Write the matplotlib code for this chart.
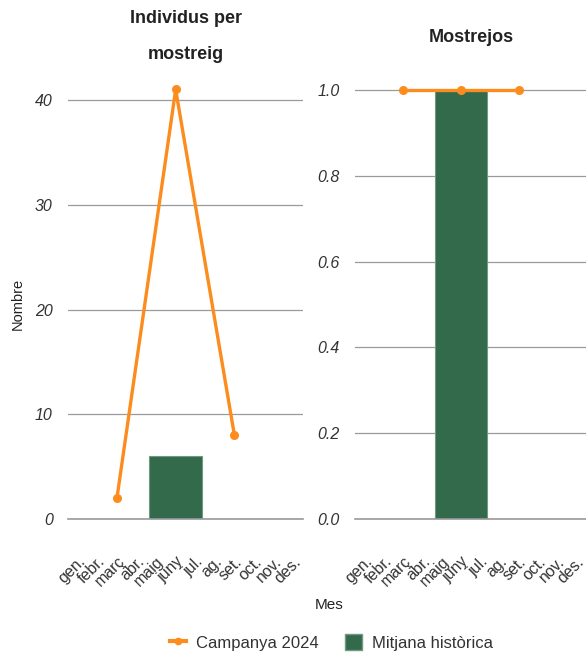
import matplotlib.pyplot as plt
from matplotlib.lines import Line2D
from matplotlib.patches import Patch

plt.rcParams['font.family'] = ['Liberation Sans', 'DejaVu Sans']

mesos = ['gen.', 'febr.', 'març', 'abr.', 'maig', 'juny', 'jul.', 'ag.', 'set.', 'oct.', 'nov.', 'des.']

# Campanya 2024 (només mesos amb mostreig)
mesos_campanya = ['març', 'juny', 'set.']
individus_2024 = [2, 41, 8]
mostrejos_2024 = [1, 1, 1]

# Mitjana històrica
mesos_mitjana = ['juny']
individus_mitjana = [6]
mostrejos_mitjana = [1]

taronja = '#fd8c1e'
verd = '#336a4c'
gris = '#9a9a9a'

fig = plt.figure(figsize=(5.86, 6.53), dpi=100)
ax1 = fig.add_axes([0.116, 0.205, 0.401, 0.674])
ax2 = fig.add_axes([0.606, 0.205, 0.394, 0.690])

idx = {m: i for i, m in enumerate(mesos)}


def dibuixa(ax, mitjana, campanya, ymax, yticks, fmt):
    ax.bar([idx[m] for m in mesos_mitjana], mitjana, width=2.7, color=verd,
           edgecolor='#6f9a80', linewidth=0.8, zorder=2)
    ax.plot([idx[m] for m in mesos_campanya], campanya, color=taronja, lw=2.4,
            marker='o', ms=5.5, zorder=3, clip_on=False)
    ax.axhline(0, color=gris, lw=1.2, zorder=2.5, clip_on=False)
    ax.set_xlim(-0.5, 11.5)
    ax.set_ylim(0, ymax)
    ax.set_yticks(yticks)
    ax.set_yticklabels([fmt.format(v) for v in yticks], fontstyle='italic',
                       fontsize=11.5, color='#333333')
    ax.set_xticks(range(12))
    ax.set_xticklabels(mesos, rotation=45, ha='right', rotation_mode='anchor',
                       fontsize=11.5, color='#333333')
    ax.tick_params(axis='both', length=0)
    ax.tick_params(axis='y', pad=11)
    ax.tick_params(axis='x', pad=25)
    ax.grid(axis='y', color=gris, lw=0.9, zorder=0)
    for s in ax.spines.values():
        s.set_visible(False)


dibuixa(ax1, individus_mitjana, individus_2024, 42, [0, 10, 20, 30, 40], '{:.0f}')
dibuixa(ax2, mostrejos_mitjana, mostrejos_2024, 1.05, [0, 0.2, 0.4, 0.6, 0.8, 1.0], '{:.1f}')

fig.text(0.317, 0.972, 'Individus per', ha='center', va='center',
         fontsize=13, fontweight='bold', color='#222222')
fig.text(0.317, 0.916, 'mostreig', ha='center', va='center',
         fontsize=13, fontweight='bold', color='#222222')
fig.text(0.804, 0.943, 'Mostrejos', ha='center', va='center',
         fontsize=13, fontweight='bold', color='#222222')

fig.text(0.030, 0.535, 'Nombre', rotation=90, ha='center', va='center',
         fontsize=10.5, color='#222222')
fig.text(0.561, 0.073, 'Mes', ha='center', va='center', fontsize=11,
         color='#222222')

handles = [Line2D([], [], color=taronja, lw=3, marker='o', ms=4.5),
           Patch(facecolor=verd, edgecolor='#6f9a80')]
fig.legend(handles, ['Campanya 2024', 'Mitjana històrica'], loc='center',
           bbox_to_anchor=(0.565, 0.016), ncol=2, frameon=False, fontsize=12,
           handlelength=1.0, handleheight=1.1, handletextpad=0.6,
           columnspacing=1.55, labelcolor='#333333')

fig.savefig('out.png', dpi=100)
